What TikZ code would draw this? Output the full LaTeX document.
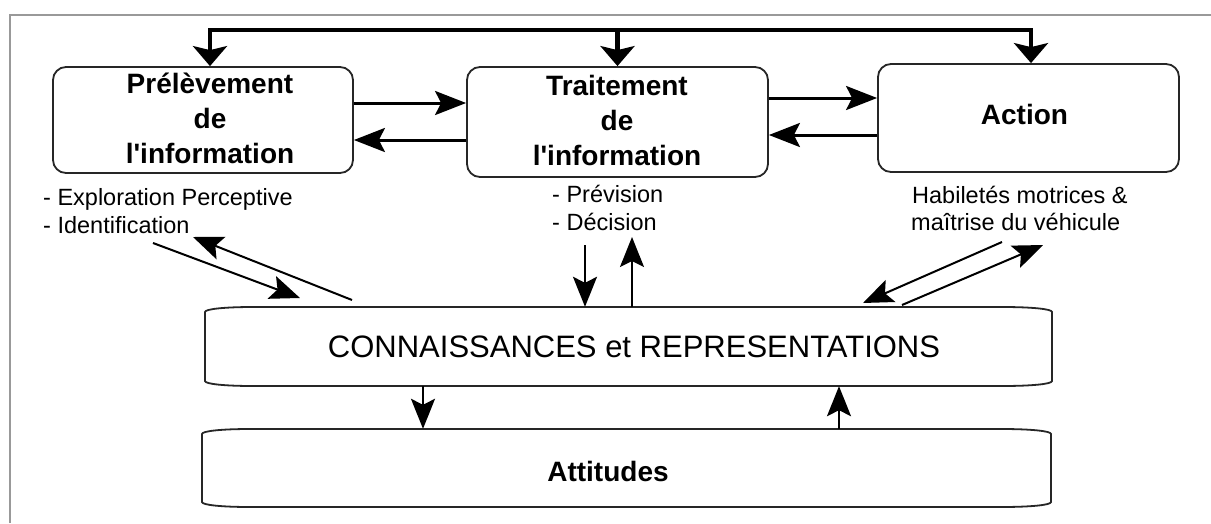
\documentclass[tikz,border=0pt]{standalone}
\usepackage{fontspec}
\setmainfont{Liberation Sans}
\usetikzlibrary{arrows.meta,calc}
\newcommand{\sq}{\XeTeXglyph\the\XeTeXcharglyph"0027\relax}
\tikzset{
  boxline/.style={draw=black!85, line width=1.8pt},
  rbox/.style={boxline, rounded corners=13pt, rectangle, inner sep=0pt},
  ghost/.style={rectangle, inner sep=0pt, draw=none},
  ttl/.style={font=\fontsize{28}{34}\selectfont\bfseries, anchor=base, inner sep=0pt},
  lbl/.style={font=\fontsize{23.5}{28}\selectfont, anchor=base west, inner sep=0pt},
  bigtxt/.style={font=\fontsize{31}{36}\selectfont, anchor=base, inner sep=0pt},
  arr/.style={line width=2pt, -{Stealth[length=30pt,width=24pt,inset=6pt]}},
  harr/.style={line width=3pt, -{Stealth[length=31pt,width=24pt,inset=6pt]}},
  bus/.style={line width=4.5pt},
  busboth/.style={bus, {Stealth[length=20pt,width=34pt,inset=4pt]}-{Stealth[length=20pt,width=34pt,inset=4pt]}},
  busone/.style={bus, -{Stealth[length=20pt,width=34pt,inset=4pt]}},
}
\newcommand{\flatshape}[4]{%
  \draw[boxline] ({#1+48},#2) -- ({#3-50},#2)
    .. controls ({#3-20},#2) and (#3,{#2+2}) .. (#3,{#2+5})
    -- (#3,{#4-5})
    .. controls (#3,{#4-2}) and ({#3-20},#4) .. ({#3-50},#4)
    -- ({#1+48},#4)
    .. controls ({#1+20},#4) and (#1,{#4-2}) .. (#1,{#4-5})
    -- (#1,{#2+5})
    .. controls (#1,{#2+2}) and ({#1+20},#2) .. ({#1+48},#2) -- cycle;}
\begin{document}
\begin{tikzpicture}[x=1pt,y=-1pt]
\useasboundingbox (0,0) rectangle (1211,523);
\fill[white] (0,0) rectangle (1211,523);
% frame
\draw[black!40, line width=1.5pt] (10,523) -- (10,15) -- (1211,15);

% top boxes
\node[rbox, minimum width=300pt, minimum height=106pt] (b1) at (203,120) {};
\node[rbox, minimum width=301pt, minimum height=110pt] (b2) at (617.5,122) {};
\node[rbox, minimum width=301pt, minimum height=108pt] (b3) at (1028.5,118) {};

\node[ttl] (t1a) at (210,93) {Prélèvement};
\node[ttl] (t1b) at (210,128) {de};
\node[ttl] (t1c) at (210,163) {l\sq information};
\node[ttl] (t2a) at (617,95) {Traitement};
\node[ttl] (t2b) at (617,130) {de};
\node[ttl] (t2c) at (617,165) {l\sq information};
\node[ttl] (t3) at (1024.5,124) {Action};

% bus
\coordinate (busL) at (210,30);
\coordinate (busM) at (617.5,30);
\coordinate (busR) at (1031,30);
\draw[busboth] (busL |- b1.north) -- (busL) -- (busR) -- (busR |- b3.north);
\draw[busone] (busM) -- (busM |- b2.north);

% horizontal arrows between boxes
\draw[harr] (b1.east |- 0,103) -- (b2.west |- 0,103);
\draw[harr] (b2.west |- 0,140) -- (b1.east |- 0,140);
\draw[harr] (b2.east |- 0,98) -- (b3.west |- 0,98);
\draw[harr] (b3.west |- 0,135) -- (b2.east |- 0,135);

% labels
\node[lbl] (l1a) at (43,205) {- Exploration Perceptive};
\node[lbl] (l1b) at (43,233) {- Identification};
\node[lbl] (l2a) at (552,202) {- Prévision};
\node[lbl] (l2b) at (552,230) {- Décision};
\node[lbl] (l3a) at (912,203) {Habiletés motrices \&};
\node[lbl] (l3b) at (911,230) {maîtrise du véhicule};

% lower boxes
\node[ghost, minimum width=847pt, minimum height=79pt] (conn) at (628.5,346.5) {};
\flatshape{205}{307}{1052}{386}
\node[bigtxt] (conntxt) at (634,357) {CONNAISSANCES et REPRESENTATIONS};
\node[ghost, minimum width=849pt, minimum height=78pt] (att) at (626.5,468) {};
\flatshape{202}{429}{1051}{507}
\node[ttl] (atttxt) at (608,481) {Attitudes};

% arrows to/from CONNAISSANCES
\coordinate (pA1) at (153,243);
\coordinate (pA2) at (300,298);
\coordinate (pB1) at (352,300);
\coordinate (pB2) at (193,237);
\draw[arr] (pA1) -- (pA2);
\draw[arr] (pB1) -- (pB2);

\coordinate (pM1) at (585,245);
\coordinate (pM2) at (632,237);
\draw[arr] (pM1) -- (pM1 |- conn.north);
\draw[arr] (pM2 |- conn.north) -- (pM2);

\coordinate (pC1) at (1002,242);
\coordinate (pC2) at (863,303);
\coordinate (pD1) at (902,305);
\coordinate (pD2) at (1043,245);
\draw[arr] (pC1) -- (pC2);
\draw[arr] (pD1) -- (pD2);

% arrows between CONNAISSANCES and Attitudes
\coordinate (dA) at (423,386);
\coordinate (uA) at (839,429);
\draw[arr] (dA) -- (dA |- att.north);
\draw[arr] (uA) -- (uA |- conn.south);
\end{tikzpicture}
\end{document}
